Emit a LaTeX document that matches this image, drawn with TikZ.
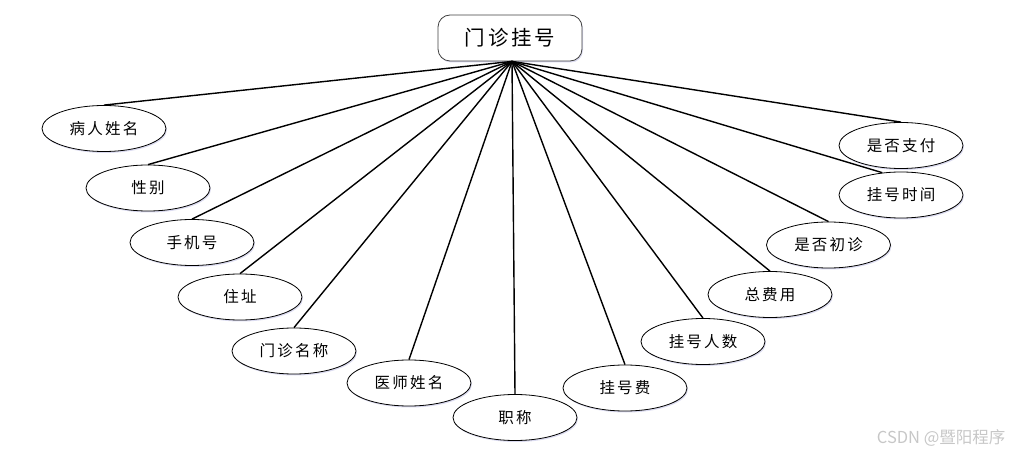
\documentclass[tikz,border=0pt]{standalone}
\usepackage{fontspec}
\newfontfamily\cjk{Noto Sans CJK SC}
\newfontfamily\cjkS[LetterSpace=14]{Noto Sans CJK SC}
\usetikzlibrary{shapes.geometric,shadows}
\begin{document}
\begin{tikzpicture}[x=1pt,y=-1pt,
  attr/.style={ellipse, draw=black, line width=0.8pt, fill=white,
    minimum width=124pt, minimum height=46pt, inner sep=0pt,
    font=\cjkS\fontsize{15.5}{18}\selectfont,
    drop shadow={shadow xshift=1pt, shadow yshift=-1.5pt, fill=blue!40!gray, opacity=0.2}},
  titlebox/.style={rectangle, rounded corners=12pt, draw=black!75, line width=0.8pt, fill=white,
    minimum width=144pt, minimum height=46pt, inner sep=0pt,
    font=\cjkS\fontsize{20.5}{24}\selectfont,
    drop shadow={shadow xshift=1pt, shadow yshift=-1.5pt, fill=blue!40!gray, opacity=0.2}},
  link/.style={line width=1.4pt, black},
  wmark/.style={font=\cjk\fontsize{16.5}{18}\selectfont, text=black!22, anchor=east}
  ]
\useasboundingbox (0,0) rectangle (1013,457);
\node[titlebox] (title) at (510,38) {门诊挂号};
\coordinate (hub) at ([xshift=2pt]title.south);
\node[attr] (e1) at (104,128.5) {病人姓名};
\node[attr] (e2) at (148,188) {性别};
\node[attr] (e3) at (192,242.5) {手机号};
\node[attr] (e4) at (240,297) {住址};
\node[attr] (e5) at (294,351) {门诊名称};
\node[attr] (e6) at (409,383) {医师姓名};
\node[attr] (e7) at (515,417.5) {职称};
\node[attr] (e8) at (625,388) {挂号费};
\node[attr] (e9) at (703,341.5) {挂号人数};
\node[attr] (e10) at (770,294.5) {总费用};
\node[attr] (e11) at (828.5,245) {是否初诊};
\node[attr] (e12) at (901,195) {挂号时间};
\node[attr] (e13) at (901,145.5) {是否支付};
\foreach \e in {e1,e2,e3,e4,e5,e6,e7,e8,e9,e10,e11,e13}
  \draw[link] (hub) -- (\e.north);
\draw[link] (hub) -- (e12.130);
\node[wmark] (wm) at (1009,438) {CSDN @暨阳程序};
\end{tikzpicture}
\end{document}
